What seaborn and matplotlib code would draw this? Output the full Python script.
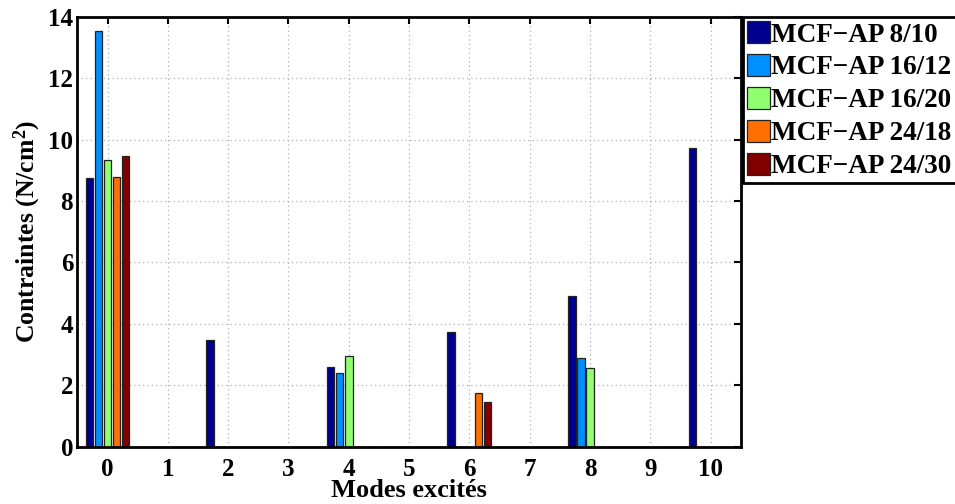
import pandas as pd
import numpy as np
import matplotlib
matplotlib.use("Agg")
import matplotlib.pyplot as plt
import seaborn as sns

# Modes on the x axis (bars only at even modes)
modes = list(range(11))
bar_modes = [0, 2, 4, 6, 8, 10]

series_names = ["MCF\u2212AP 8/10", "MCF\u2212AP 16/12", "MCF\u2212AP 16/20",
                "MCF\u2212AP 24/18", "MCF\u2212AP 24/30"]
series_colors = ["#00008F", "#008FFF", "#8FFF70", "#FF7000", "#800000"]

# Stress values (N/cm^2) at modes 0, 2, 4, 6, 8, 10 ; 0 = no bar
mcf_8_10 = [8.76, 3.48, 2.60, 3.73, 4.91, 9.73]
mcf_16_12 = [13.54, 0, 2.40, 0, 2.88, 0]
mcf_16_20 = [9.33, 0, 2.94, 0, 2.55, 0]
mcf_24_18 = [8.77, 0, 0, 1.74, 0, 0]
mcf_24_30 = [9.47, 0, 0, 1.46, 0, 0]

all_series = [mcf_8_10, mcf_16_12, mcf_16_20, mcf_24_18, mcf_24_30]

# Long-form table for seaborn
rows = []
for name, vals in zip(series_names, all_series):
    for m, v in zip(bar_modes, vals):
        if v > 0:
            rows.append({"mode": str(m), "serie": name, "val": v})
df = pd.DataFrame(rows)

sns.set_theme(style="white")
plt.rcParams["font.family"] = ["Liberation Serif", "DejaVu Serif"]
plt.rcParams["font.weight"] = "bold"
plt.rcParams["text.color"] = "black"
plt.rcParams["axes.labelcolor"] = "black"
plt.rcParams["xtick.color"] = "black"
plt.rcParams["ytick.color"] = "black"
plt.rcParams["mathtext.fontset"] = "custom"
plt.rcParams["mathtext.rm"] = "Liberation Serif:bold"
plt.rcParams["mathtext.bf"] = "Liberation Serif:bold"
plt.rcParams["mathtext.it"] = "Liberation Serif:bold"

fig = plt.figure(figsize=(9.55, 5.04), dpi=100)
ax = fig.add_axes([0.081, 0.1137, 0.6946, 0.8533])

sns.barplot(data=df, x="mode", y="val", hue="serie",
            order=[str(m) for m in modes], hue_order=series_names,
            palette=series_colors, saturation=1, width=0.75, gap=0.16,
            edgecolor="#222222", linewidth=0.9, ax=ax)

ax.set_xlim(-0.5, 10.5)
ax.set_ylim(0, 14)
ax.set_yticks(np.arange(0, 15, 2))

# MATLAB-like look
ax.set_axisbelow(True)
ax.grid(True, axis="both", color="#b0b0b0", linestyle=(0, (1, 2.5)), linewidth=0.9)
for sp in ax.spines.values():
    sp.set_linewidth(2)
    sp.set_color("black")
    sp.set_visible(True)
ax.tick_params(direction="in", length=5, width=1.5, top=True, right=True,
               labelsize=18, pad=3, colors="black")
ax.tick_params(axis="x", pad=8)

ax.set_xlabel("Modes excités", fontsize=19, fontweight="bold", labelpad=-1)
ax.set_ylabel("Contraintes (N/cm$^{2}$)", fontsize=18.5, fontweight="bold", labelpad=4)

handles, labels = ax.get_legend_handles_labels()
ax.get_legend().remove()
leg = ax.legend(handles, labels, loc="upper left", bbox_to_anchor=(0.7775, 0.966),
                bbox_transform=fig.transFigure, fontsize=19.5, frameon=True,
                fancybox=False, edgecolor="black", framealpha=1,
                handlelength=0.87, handleheight=0.87, handletextpad=0.05,
                labelspacing=0.24, borderpad=0.15, borderaxespad=0)
leg.get_frame().set_linewidth(2)
for t in leg.get_texts():
    t.set_fontweight("bold")

fig.savefig("out.png", dpi=100)
